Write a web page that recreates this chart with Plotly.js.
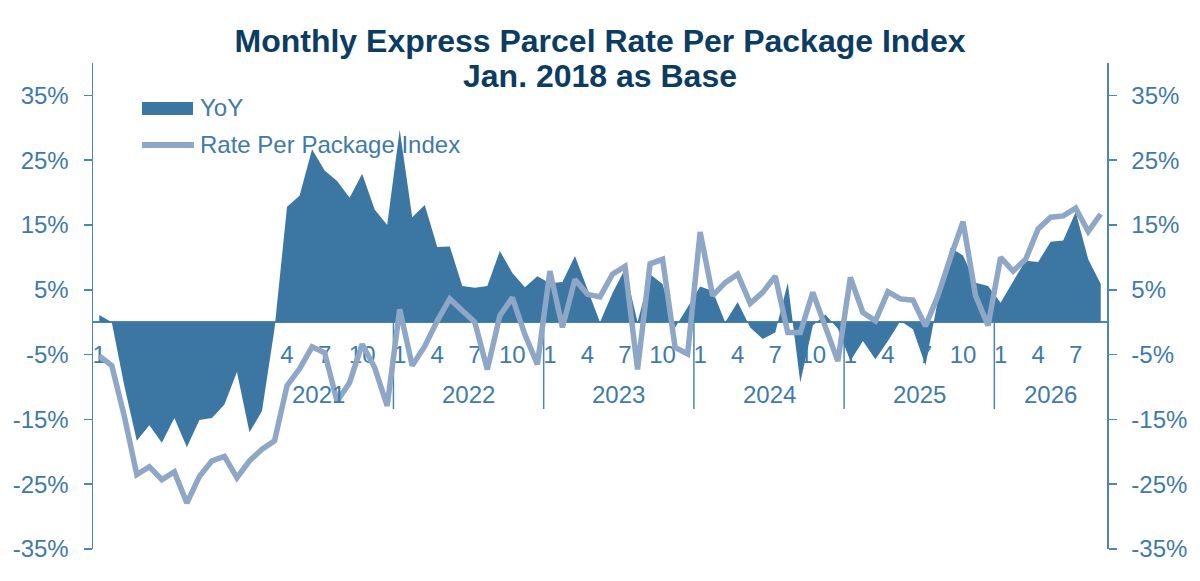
<!DOCTYPE html>
<html>
<head>
<meta charset="utf-8">
<script src="https://cdn.plot.ly/plotly-3.0.1.min.js"></script>
<style>
  html, body { margin: 0; padding: 0; background: #fff; }
  #chart { width: 1200px; height: 581px; }
</style>
</head>
<body>
<div id="chart"></div>
<script>
// monthly values, Jan 2020 .. Sep 2026 (in %)
const yoy = [
    1.1, 0, -9.8, -18.3, -15.9, -18.6, -14.8, -19.3, -15.1, -14.8, -12.7, -7.7,
    -17.0, -13.7, -1.0, 17.8, 19.5, 26.7, 23.4, 21.8, 19.2, 22.9, 17.4, 15.0,
    29.7, 16.2, 18.1, 11.6, 11.7, 5.6, 5.3, 5.6, 11.0, 7.6, 5.4, 7.1,
    6.0, 6.2, 10.2, 5.0, 0, 4.5, 8.2, 0, 7.4, 5.9, -0.8, 2.3,
    5.5, 4.8, 0, 3.1, -0.8, -2.6, -1.6, 6.1, -9.3, -0.5, 1.2, -1.0,
    -6.0, -2.9, -5.7, -2.9, 0.2, -1.1, -6.7, 3.5, 11.5, 10.3, 6.1, 5.6,
    3.0, 6.3, 9.5, 9.3, 12.4, 12.6, 17.0, 9.7, 5.9
];
const rateIndex = [
    -5.2, -6.7, -14.5, -23.5, -22.3, -24.3, -23.1, -27.9, -23.8, -21.4, -20.7, -24.0,
    -21.4, -19.6, -18.3, -9.8, -7.2, -3.8, -4.7, -12.2, -9.3, -3.4, -7.0, -12.9,
    2.0, -6.7, -3.7, 0.2, 3.6, 1.7, 0.0, -7.3, 1.0, 3.8, -1.9, -6.5,
    7.9, -0.8, 6.6, 4.3, 3.9, 7.4, 8.6, -7.3, 9.0, 9.7, -3.9, -4.9,
    13.9, 4.1, 6.1, 7.4, 2.9, 4.6, 7.1, -1.6, -1.6, 4.6, -0.6, -6.0,
    6.9, 1.5, 0.2, 4.7, 3.6, 3.4, -0.6, 4.1, 10.0, 15.5, 4.1, -0.5,
    10.0, 7.9, 9.7, 14.4, 16.2, 16.4, 17.6, 14.0, 16.7
];
const firstYear = 2020;
const yearLabels = ['2021', '2022', '2023', '2024', '2025', '2026'];
const monthTickLabels = ['1', '4', '7', '10'];
const yTickVals = [-35, -25, -15, -5, 5, 15, 25, 35];
const yTickText = ['-35%', '-25%', '-15%', '-5%', '5%', '15%', '25%', '35%'];

const titleColor = '#0c3c61';
const axisColor = '#4a86b6';
const textColor = '#3f7aaa';
const areaColor = '#3c77a3';
const lineColor = '#8ea7c6';
const fontFamily = '"Liberation Sans", Arial, sans-serif';

// category labels like 2020-01
const periods = yoy.map((_, i) => {
    const y = firstYear + Math.floor(i / 12);
    const m = (i % 12) + 1;
    return `${y}-${String(m).padStart(2, '0')}`;
});

// month ticks: first month, then 1/4/7/10 from the first labelled year on (Apr 2021)
const tickVals = [];
const tickText = [];
periods.forEach((p, i) => {
    const m = String((i % 12) + 1);
    if (i === 0 || (i >= 15 && monthTickLabels.includes(m))) {
        tickVals.push(p);
        tickText.push(m);
    }
});

// plot area in pixels, used for the hand-drawn legend and title
const L = 93, R = 93, T = 63, B = 32;
const W = 1200 - L - R, H = 581 - T - B;
const px2x = px => (px - L) / W;
const px2y = py => (581 - B - py) / H;

const shapes = [];
const annotations = [];

// year labels and separators under the zero line
yearLabels.forEach((yr, k) => {
    const start = periods.indexOf(`${yr}-01`);
    let end = start + 11;
    if (end > periods.length - 1) end = periods.length - 1;
    annotations.push({
        x: (start + end) / 2, y: -11.1, xref: 'x', yref: 'y',
        text: yr, showarrow: false, xanchor: 'center', yanchor: 'middle',
        font: { family: fontFamily, size: 24, color: textColor }
    });
    if (k > 0) {
        shapes.push({
            type: 'line', xref: 'x', yref: 'y', layer: 'below',
            x0: start - 0.5, x1: start - 0.5, y0: 0, y1: -13.4,
            line: { color: axisColor, width: 1.5 }
        });
    }
});

// second title line
annotations.push({
    x: 0.5, y: px2y(76), xref: 'paper', yref: 'paper',
    text: '<b>Jan. 2018 as Base</b>', showarrow: false, xanchor: 'center', yanchor: 'middle',
    font: { family: fontFamily, size: 32, color: titleColor }
});

// legend
shapes.push({
    type: 'rect', xref: 'paper', yref: 'paper',
    x0: px2x(142), x1: px2x(193), y0: px2y(115), y1: px2y(102),
    fillcolor: areaColor, line: { width: 0 }
});
shapes.push({
    type: 'line', xref: 'paper', yref: 'paper',
    x0: px2x(142), x1: px2x(194), y0: px2y(145), y1: px2y(145),
    line: { color: lineColor, width: 6 }
});
annotations.push({
    x: px2x(198), y: px2y(108), xref: 'paper', yref: 'paper',
    text: 'YoY', showarrow: false, xanchor: 'left', yanchor: 'middle',
    font: { family: fontFamily, size: 24, color: textColor }
});
annotations.push({
    x: px2x(198), y: px2y(144), xref: 'paper', yref: 'paper',
    text: 'Rate Per Package Index', showarrow: false, xanchor: 'left', yanchor: 'middle',
    font: { family: fontFamily, size: 24, color: textColor }
});

const traces = [
    {
        x: periods,
        y: yoy,
        name: 'YoY',
        type: 'scatter',
        mode: 'lines',
        fill: 'tozeroy',
        fillcolor: areaColor,
        line: { color: areaColor, width: 0 },
        hoverinfo: 'skip'
    },
    {
        x: periods,
        y: rateIndex,
        yaxis: 'y2',
        name: 'Rate Per Package Index',
        type: 'scatter',
        mode: 'lines',
        line: { color: lineColor, width: 5.5 },
        hoverinfo: 'skip'
    }
];

const yBase = {
    range: [-35, 40],
    tickvals: yTickVals,
    ticktext: yTickText,
    ticks: 'outside',
    ticklen: 8,
    tickwidth: 1.5,
    tickcolor: axisColor,
    showline: true,
    linecolor: axisColor,
    linewidth: 1.5,
    showgrid: false,
    ticklabelstandoff: 10,
    tickfont: { family: fontFamily, size: 24, color: textColor },
    fixedrange: true
};

const layout = {
    width: 1200,
    height: 581,
    margin: { l: L, r: R, t: T, b: B },
    paper_bgcolor: '#FFFFFF',
    plot_bgcolor: '#FFFFFF',
    showlegend: false,
    title: {
        text: '<b>Monthly Express Parcel Rate Per Package Index</b>',
        font: { family: fontFamily, size: 32, color: titleColor },
        x: 0.5,
        xanchor: 'center',
        y: 1 - 41 / 581,
        yanchor: 'middle'
    },
    xaxis: {
        type: 'category',
        range: [-0.5, periods.length - 0.5],
        tickvals: tickVals,
        ticktext: tickText,
        anchor: 'free',
        position: 35 / 75,
        showline: false,
        showgrid: false,
        ticks: '',
        ticklabelstandoff: 16,
        tickfont: { family: fontFamily, size: 24, color: textColor },
        layer: 'below traces',
        fixedrange: true
    },
    yaxis: Object.assign({}, yBase, {
        zeroline: true,
        zerolinecolor: axisColor,
        zerolinewidth: 1.5
    }),
    yaxis2: Object.assign({}, yBase, {
        overlaying: 'y',
        side: 'right',
        zeroline: false
    }),
    shapes: shapes,
    annotations: annotations
};

Plotly.newPlot('chart', traces, layout, { displayModeBar: false, staticPlot: true });
</script>
</body>
</html>
